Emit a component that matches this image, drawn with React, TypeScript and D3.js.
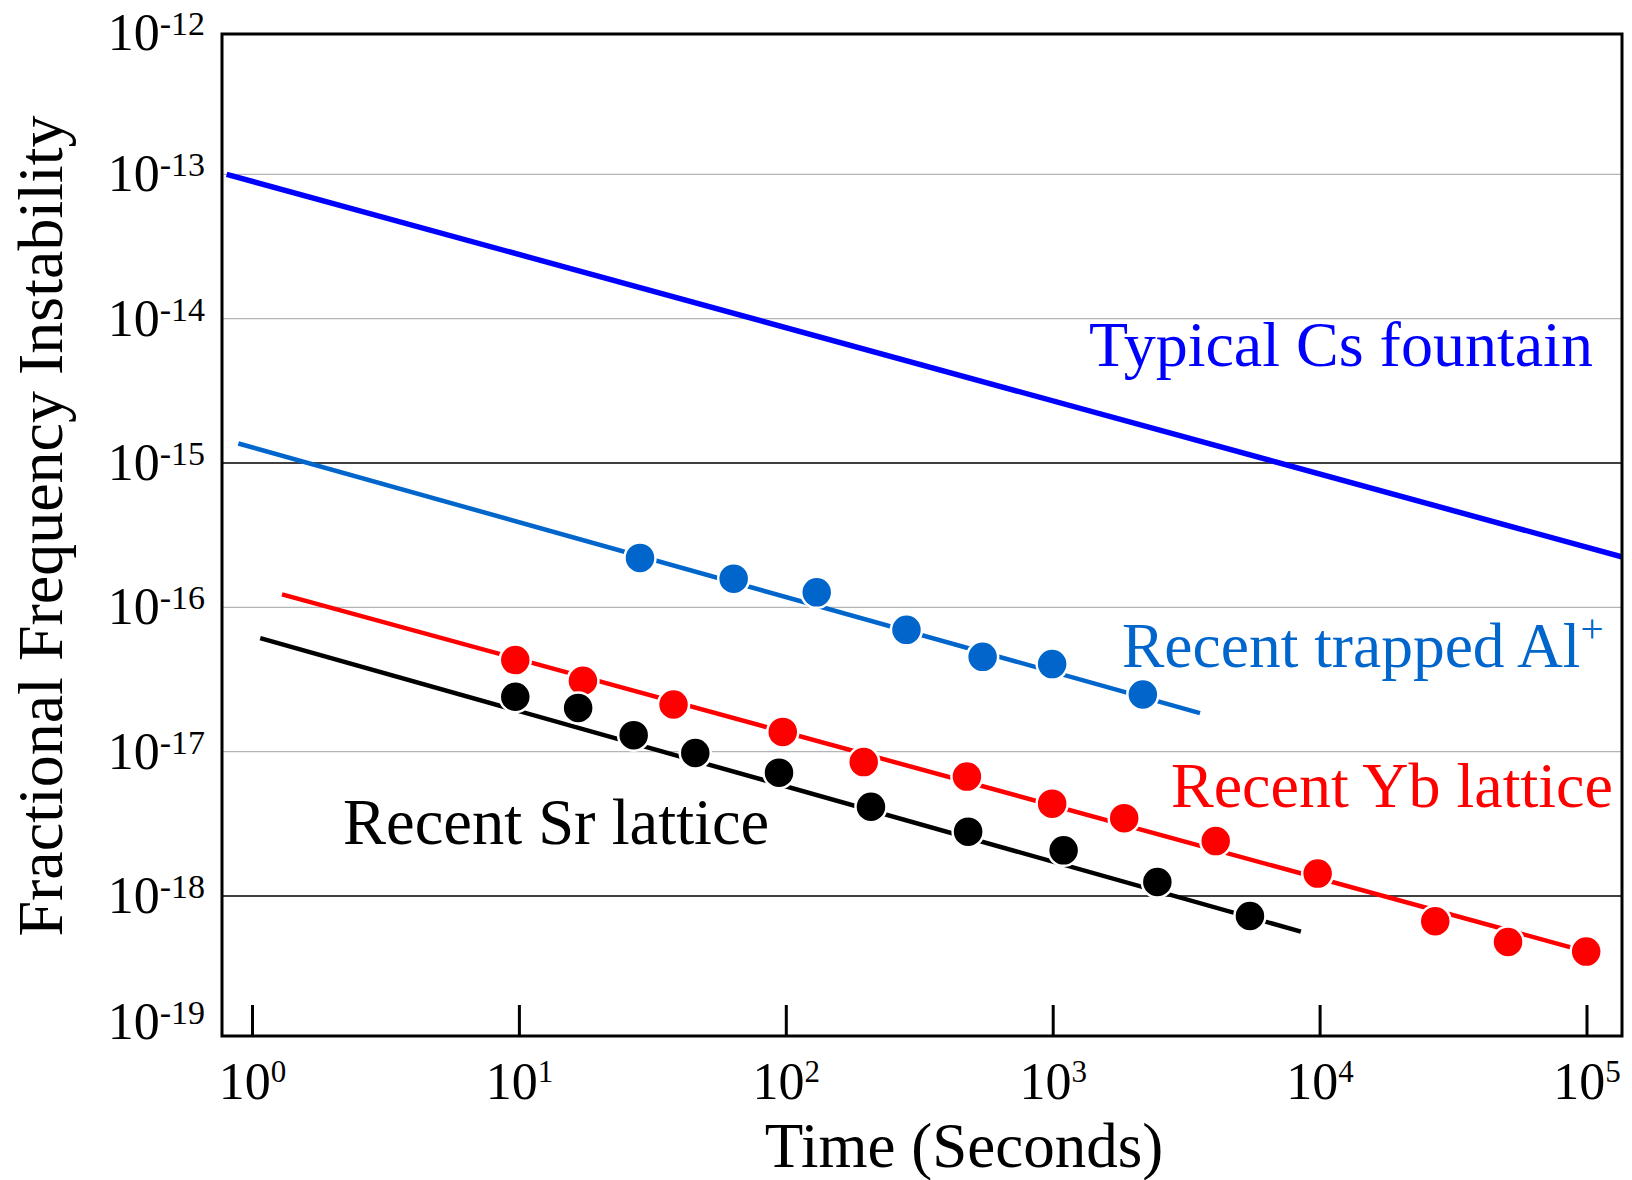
import React from "react";
import * as d3 from "d3";

// Averaging time ticks (powers of ten) and instability ticks
const xTickExponents = [0, 1, 2, 3, 4, 5];
const yTickExponents = [-12, -13, -14, -15, -16, -17, -18, -19];
const lightGridExponents = [-13, -14, -16, -17];
const darkGridExponents = [-15, -18];

// Typical Cs fountain (reference slope only)
const csFitTau = [0.8, 1.36e5];
const csFitSigma = [1.0e-13, 2.23e-16];

// Recent trapped Al+
const alTau = [28.3, 63.5, 130, 282, 544, 991, 2167];
const alSigma = [2.2e-16, 1.58e-16, 1.27e-16, 6.98e-17, 4.54e-17, 4.04e-17, 2.49e-17];
const alFitTau = [0.885, 3548];
const alFitSigma = [1.365e-15, 1.85e-17];

// Recent Yb lattice
const ybTau = [9.65, 17.3, 37.8, 97, 195, 475, 991, 1845, 4064, 9790, 27000, 50600, 99300];
const ybSigma = [4.31e-17, 3.1e-17, 2.12e-17, 1.37e-17, 8.47e-18, 6.72e-18, 4.36e-18, 3.46e-18, 2.4e-18, 1.43e-18, 6.68e-19, 4.8e-19, 4.12e-19];
const ybFitTau = [1.29, 99300];
const ybFitSigma = [1.23e-16, 4.12e-19];

// Recent Sr lattice
const srTau = [9.65, 16.6, 26.8, 45.6, 93.9, 207.6, 480, 1094, 2456, 5460];
const srSigma = [2.4e-17, 2.01e-17, 1.3e-17, 9.78e-18, 7.15e-18, 4.15e-18, 2.79e-18, 2.07e-18, 1.25e-18, 7.26e-19];
const srFitTau = [1.069, 8472];
const srFitSigma = [6.12e-17, 5.66e-19];

const W = 1632;
const H = 1180;
const frame = { left: 222, right: 1622, top: 34, bottom: 1036 };
const FONT = "'Liberation Serif', 'Times New Roman', Times, serif";

const x = d3.scaleLog().domain([1, 1e5]).range([252.5, 1587]);
const y = d3.scaleLog().domain([1e-19, 1e-12]).range([1040.3, 30]);

const zip = (t: number[], s: number[]) => t.map((v, i) => [v, s[i]] as [number, number]);
const line = d3
  .line<[number, number]>()
  .x((d) => x(d[0]))
  .y((d) => y(d[1]));

type Series = {
  color: string;
  width: number;
  fitTau: number[];
  fitSigma: number[];
  tau?: number[];
  sigma?: number[];
};

const series: Series[] = [
  { color: "#0000ff", width: 5.5, fitTau: csFitTau, fitSigma: csFitSigma },
  { color: "#0066cc", width: 4.5, fitTau: alFitTau, fitSigma: alFitSigma, tau: alTau, sigma: alSigma },
  { color: "#ff0000", width: 4.5, fitTau: ybFitTau, fitSigma: ybFitSigma, tau: ybTau, sigma: ybSigma },
  { color: "#000000", width: 4.5, fitTau: srFitTau, fitSigma: srFitSigma, tau: srTau, sigma: srSigma },
];

export default function App() {
  return (
    <svg
      width={W}
      height={H}
      viewBox={`0 0 ${W} ${H}`}
      style={{ position: "absolute", left: 0, top: 0, background: "#fff" }}
      fontFamily={FONT}
    >
      <defs>
        <clipPath id="plot-clip">
          <rect
            x={frame.left}
            y={frame.top}
            width={frame.right - frame.left}
            height={frame.bottom - frame.top}
          />
        </clipPath>
      </defs>
      <rect width={W} height={H} fill="#fff" />

      {/* horizontal gridlines */}
      {lightGridExponents.map((e) => (
        <line
          key={`lg${e}`}
          x1={frame.left}
          x2={frame.right}
          y1={y(Math.pow(10, e))}
          y2={y(Math.pow(10, e))}
          stroke="#b4b4b4"
          strokeWidth={1.3}
        />
      ))}
      {darkGridExponents.map((e) => (
        <line
          key={`dg${e}`}
          x1={frame.left}
          x2={frame.right}
          y1={y(Math.pow(10, e))}
          y2={y(Math.pow(10, e))}
          stroke="#000"
          strokeWidth={1.4}
        />
      ))}

      {/* fitted lines and measurements */}
      <g clipPath="url(#plot-clip)">
        {series.map((s, i) => (
          <g key={i}>
            <path
              d={line(zip(s.fitTau, s.fitSigma)) || ""}
              fill="none"
              stroke={s.color}
              strokeWidth={s.width}
            />
            {s.tau &&
              s.sigma &&
              zip(s.tau, s.sigma).map((d, j) => (
                <circle
                  key={j}
                  cx={x(d[0])}
                  cy={y(d[1])}
                  r={15.5}
                  fill={s.color}
                  stroke="#fff"
                  strokeWidth={2.5}
                />
              ))}
          </g>
        ))}
      </g>

      {/* frame */}
      <rect
        x={frame.left}
        y={frame.top}
        width={frame.right - frame.left}
        height={frame.bottom - frame.top}
        fill="none"
        stroke="#000"
        strokeWidth={3}
      />

      {/* x ticks, drawn inward from the bottom edge */}
      {xTickExponents.map((e) => (
        <line
          key={`xt${e}`}
          x1={x(Math.pow(10, e))}
          x2={x(Math.pow(10, e))}
          y1={frame.bottom}
          y2={frame.bottom - 31}
          stroke="#000"
          strokeWidth={3}
        />
      ))}

      {/* x tick labels */}
      {xTickExponents.map((e) => (
        <text
          key={`xl${e}`}
          x={x(Math.pow(10, e))}
          y={1099}
          fontSize={52}
          textAnchor="middle"
          fill="#000"
        >
          10
          <tspan fontSize={31} dy={-17}>
            {e}
          </tspan>
        </text>
      ))}

      {/* y tick labels */}
      {yTickExponents.map((e) => {
        const cy = Math.min(Math.max(y(Math.pow(10, e)), 33), 1022);
        return (
          <text
            key={`yl${e}`}
            x={205}
            y={cy + 17}
            fontSize={52}
            textAnchor="end"
            fill="#000"
          >
            10
            <tspan fontSize={34} dy={-15}>
              {`-${Math.abs(e)}`}
            </tspan>
          </text>
        );
      })}

      {/* axis titles */}
      <text x={964} y={1167} fontSize={63} textAnchor="middle" fill="#000">
        Time (Seconds)
      </text>
      <text
        transform="translate(62,526) rotate(-90)"
        fontSize={64}
        textAnchor="middle"
        fill="#000"
      >
        Fractional Frequency Instability
      </text>

      {/* series labels */}
      <text x={1089} y={366} fontSize={64} fill="#0000ff">
        Typical Cs fountain
      </text>
      <text x={1122} y={667} fontSize={63.5} fill="#0066cc">
        Recent trapped Al
        <tspan fontSize={41} dy={-25}>
          +
        </tspan>
      </text>
      <text x={1171} y={807} fontSize={64} fill="#ff0000">
        Recent Yb lattice
      </text>
      <text x={343} y={844} fontSize={64.5} fill="#000">
        Recent Sr lattice
      </text>
    </svg>
  );
}
